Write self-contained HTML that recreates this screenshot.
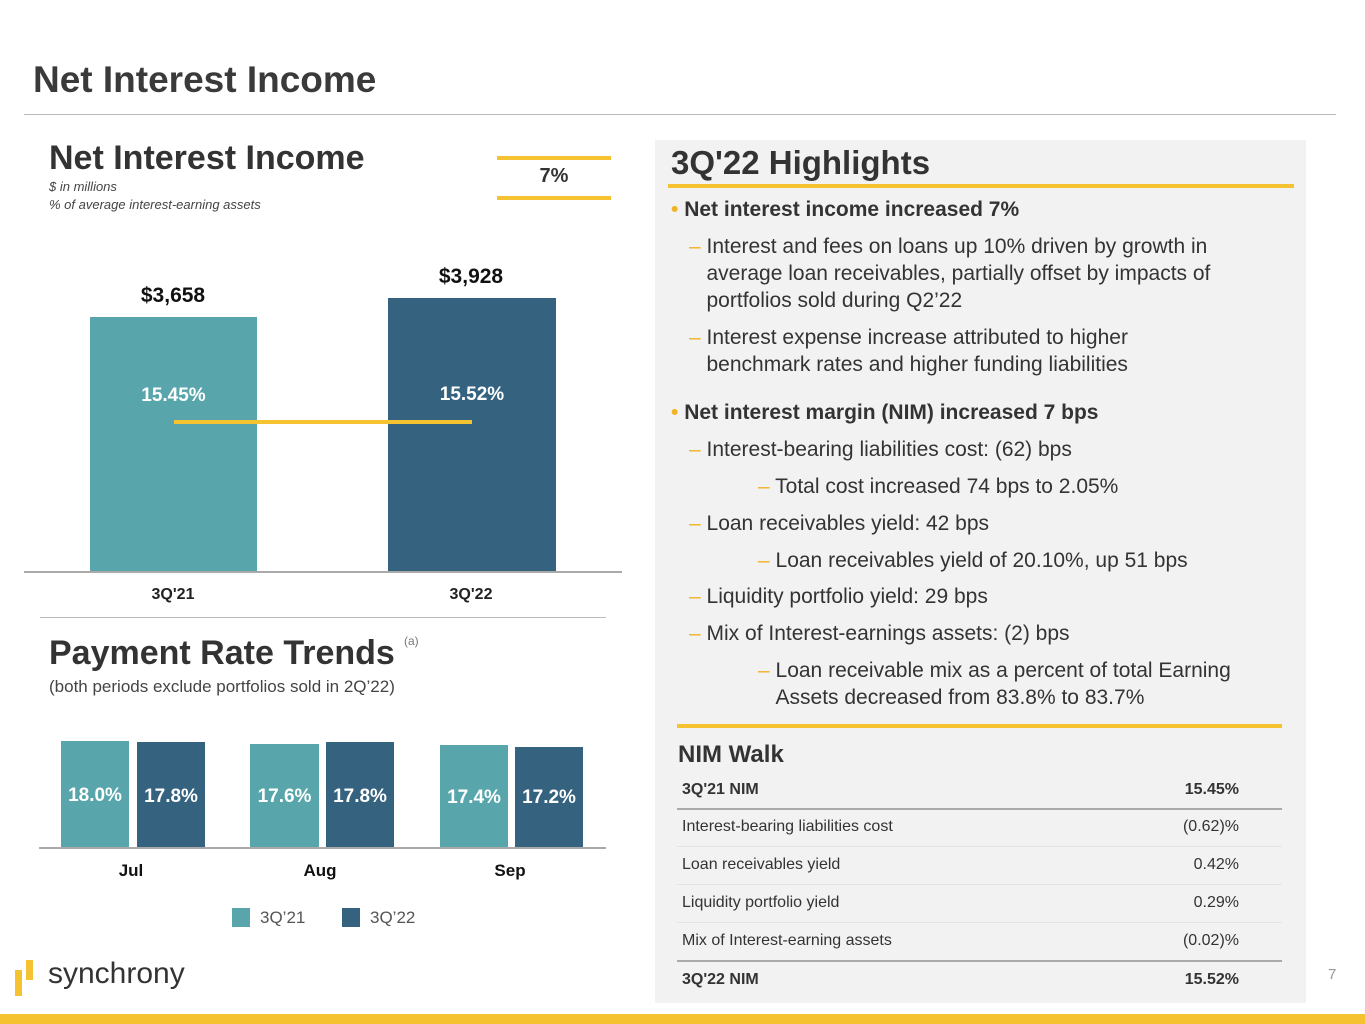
<!DOCTYPE html>
<html><head><meta charset="utf-8"><style>
*{margin:0;padding:0;box-sizing:border-box}
body{width:1365px;height:1024px;position:relative;background:#fff;font-family:"Liberation Sans",sans-serif;color:#333;overflow:hidden}
.a{position:absolute;white-space:nowrap}
.b{font-weight:bold}
.c{transform:translateX(-50%)}
.y{position:absolute;background:#f5c232}
.bar{position:absolute}
.t{background:#58a6ab}.d{background:#34627f}
.w{color:#fff;font-weight:bold;font-size:19px;text-align:center;position:absolute;width:100%}
.hl{font-size:21px;color:#333;line-height:27px}
.dash{color:#f0b429}
.tr{position:absolute;left:682px;width:557px;font-size:16px;display:flex;justify-content:space-between}
</style></head><body>
<div class="a" style="left:33px;top:59px;font-size:37px;font-weight:bold;color:#3a3a3a">Net Interest Income</div>
<div class="a" style="left:24px;top:114px;width:1312px;height:1px;background:#bbb"></div>

<div class="a b" style="left:49px;top:139px;font-size:34px;color:#333">Net Interest Income</div>
<div class="a" style="left:49px;top:179px;font-size:13px;font-style:italic;color:#444">$ in millions</div>
<div class="a" style="left:49px;top:197px;font-size:13px;font-style:italic;color:#444">% of average interest-earning assets</div>
<div class="y" style="left:497px;top:156px;width:114px;height:4px"></div>
<div class="y" style="left:497px;top:196px;width:114px;height:4px"></div>
<div class="a b" style="left:554px;top:165px;font-size:20px;transform:translateX(-50%)">7%</div>

<div class="a b c" style="left:173px;top:284px;font-size:21px;color:#111">$3,658</div>
<div class="a b c" style="left:471px;top:265px;font-size:21px;color:#111">$3,928</div>
<div class="bar t" style="left:90px;top:317px;width:167px;height:255px"><div class="w" style="top:68px">15.45%</div></div>
<div class="bar d" style="left:388px;top:298px;width:168px;height:274px"><div class="w" style="top:86px">15.52%</div></div>
<div class="y" style="left:174px;top:420px;width:298px;height:4px"></div>
<div class="a" style="left:24px;top:571px;width:598px;height:2px;background:#aaa"></div>
<div class="a b c" style="left:173px;top:586px;font-size:16px;color:#222">3Q'21</div>
<div class="a b c" style="left:471px;top:586px;font-size:16px;color:#222">3Q'22</div>
<div class="a" style="left:40px;top:617px;width:566px;height:1px;background:#bbb"></div>

<div class="a b" style="left:49px;top:634px;font-size:34px;color:#333">Payment Rate Trends</div>
<div class="a" style="left:404px;top:634px;font-size:12px;color:#777">(a)</div>
<div class="a" style="left:49px;top:677px;font-size:17px;color:#444">(both periods exclude portfolios sold in 2Q’22)</div>
<div class="bar t" style="left:61px;top:741px;width:68px;height:107px"><div class="w" style="top:44px">18.0%</div></div>
<div class="bar d" style="left:137px;top:742px;width:68px;height:106px"><div class="w" style="top:44px">17.8%</div></div>
<div class="bar t" style="left:250px;top:744px;width:69px;height:104px"><div class="w" style="top:42px">17.6%</div></div>
<div class="bar d" style="left:326px;top:742px;width:68px;height:106px"><div class="w" style="top:44px">17.8%</div></div>
<div class="bar t" style="left:440px;top:745px;width:68px;height:103px"><div class="w" style="top:42px">17.4%</div></div>
<div class="bar d" style="left:515px;top:747px;width:68px;height:101px"><div class="w" style="top:40px">17.2%</div></div>
<div class="a" style="left:39px;top:847px;width:567px;height:2px;background:#aaa"></div>
<div class="a b c" style="left:131px;top:861px;font-size:17px;color:#111">Jul</div>
<div class="a b c" style="left:320px;top:861px;font-size:17px;color:#111">Aug</div>
<div class="a b c" style="left:510px;top:861px;font-size:17px;color:#111">Sep</div>
<div class="bar t" style="left:232px;top:908px;width:18px;height:19px"></div>
<div class="a" style="left:260px;top:908px;font-size:17px;color:#555">3Q’21</div>
<div class="bar d" style="left:342px;top:908px;width:18px;height:19px"></div>
<div class="a" style="left:370px;top:908px;font-size:17px;color:#555">3Q’22</div>

<div class="y" style="left:15px;top:970px;width:7px;height:26px"></div>
<div class="y" style="left:26px;top:960px;width:7px;height:20px"></div>
<div class="a" style="left:48px;top:957px;font-size:30px;color:#333">synchrony</div>

<div class="a" style="left:655px;top:140px;width:651px;height:863px;background:#f2f2f2"></div>
<div class="a b" style="left:671px;top:144px;font-size:33px;color:#333">3Q'22 Highlights</div>
<div class="y" style="left:668px;top:184px;width:626px;height:4px"></div>
<div class="a hl b" style="left:671px;top:196px"><span class="dash">•</span> Net interest income increased 7%</div>
<div class="a hl" style="left:689px;top:233px"><span class="dash">–</span> Interest and fees on loans up 10% driven by growth in<br>&nbsp;&nbsp;&nbsp;average loan receivables, partially offset by impacts of<br>&nbsp;&nbsp;&nbsp;portfolios sold during Q2’22</div>
<div class="a hl" style="left:689px;top:324px"><span class="dash">–</span> Interest expense increase attributed to higher<br>&nbsp;&nbsp;&nbsp;benchmark rates and higher funding liabilities</div>
<div class="a hl b" style="left:671px;top:399px"><span class="dash">•</span> Net interest margin (NIM) increased 7 bps</div>
<div class="a hl" style="left:689px;top:436px"><span class="dash">–</span> Interest-bearing liabilities cost: (62) bps</div>
<div class="a hl" style="left:758px;top:473px"><span class="dash">–</span> Total cost increased 74 bps to 2.05%</div>
<div class="a hl" style="left:689px;top:510px"><span class="dash">–</span> Loan receivables yield: 42 bps</div>
<div class="a hl" style="left:758px;top:547px"><span class="dash">–</span> Loan receivables yield of 20.10%, up 51 bps</div>
<div class="a hl" style="left:689px;top:583px"><span class="dash">–</span> Liquidity portfolio yield: 29 bps</div>
<div class="a hl" style="left:689px;top:620px"><span class="dash">–</span> Mix of Interest-earnings assets: (2) bps</div>
<div class="a hl" style="left:758px;top:657px"><span class="dash">–</span> Loan receivable mix as a percent of total Earning<br>&nbsp;&nbsp;&nbsp;Assets decreased from 83.8% to 83.7%</div>
<div class="y" style="left:677px;top:724px;width:605px;height:4px"></div>
<div class="a b" style="left:678px;top:741px;font-size:24px;color:#333">NIM Walk</div>
<div class="tr b" style="top:781px"><span>3Q'21 NIM</span><span>15.45%</span></div>
<div class="a" style="left:677px;top:808px;width:605px;height:2px;background:#aaa"></div>
<div class="tr" style="top:818px"><span>Interest-bearing liabilities cost</span><span>(0.62)%</span></div>
<div class="a" style="left:677px;top:846px;width:605px;height:1px;background:#e4e4e4"></div>
<div class="tr" style="top:856px"><span>Loan receivables yield</span><span>0.42%</span></div>
<div class="a" style="left:677px;top:884px;width:605px;height:1px;background:#e4e4e4"></div>
<div class="tr" style="top:894px"><span>Liquidity portfolio yield</span><span>0.29%</span></div>
<div class="a" style="left:677px;top:922px;width:605px;height:1px;background:#e4e4e4"></div>
<div class="tr" style="top:932px"><span>Mix of Interest-earning assets</span><span>(0.02)%</span></div>
<div class="a" style="left:677px;top:960px;width:605px;height:2px;background:#aaa"></div>
<div class="tr b" style="top:971px"><span>3Q'22 NIM</span><span>15.52%</span></div>
<div class="a" style="left:1328px;top:966px;font-size:15px;color:#999">7</div>
<div class="y" style="left:0;top:1014px;width:1365px;height:10px"></div>
</body></html>
